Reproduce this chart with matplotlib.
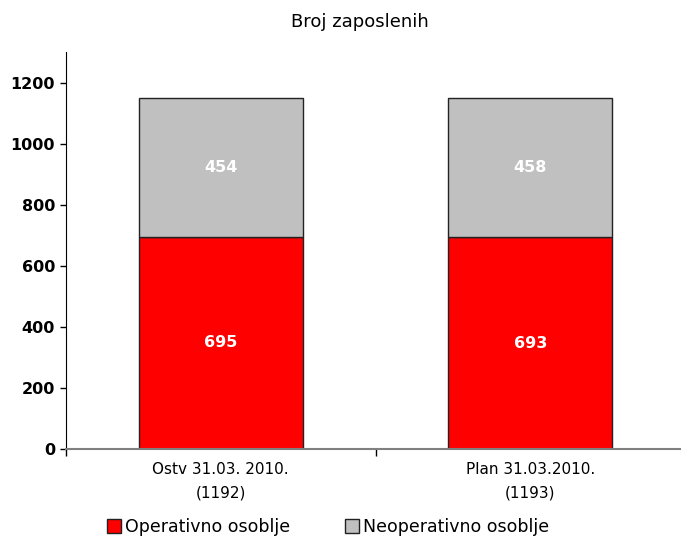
import matplotlib.pyplot as plt
from matplotlib.patches import Patch

categories = ['Ostv 31.03. 2010.\n(1192)', 'Plan 31.03.2010.\n(1193)']
operativno = [695, 693]
neoperativno = [454, 458]
y_ticks = [0, 200, 400, 600, 800, 1000, 1200]

red = '#ff0000'
grey = '#c0c0c0'

fig = plt.figure(figsize=(6.81, 5.38), dpi=100)
ax = fig.add_axes([66 / 681, 1 - 449 / 538, 619 / 681, 397 / 538])

x = list(range(len(categories)))
width = 0.53
ax.bar(x, operativno, width, color=red, edgecolor='#222222', linewidth=1.0)
ax.bar(x, neoperativno, width, bottom=operativno, color=grey,
       edgecolor='#222222', linewidth=1.0)

for xi, a, b in zip(x, operativno, neoperativno):
    ax.text(xi, a / 2, str(a), ha='center', va='center', color='white',
            fontsize=11.5, fontweight='bold')
    ax.text(xi, a + b / 2, str(b), ha='center', va='center', color='white',
            fontsize=11.5, fontweight='bold')

ax.set_xlim(-0.5, 1.5)
ax.set_ylim(0, 1300)
ax.set_yticks(y_ticks)
ax.set_yticklabels([str(t) for t in y_ticks], fontsize=11.5, fontweight='bold')
ax.tick_params(axis='y', direction='out', length=4, width=1, pad=4)

ax.set_xticks(x)
ax.set_xticklabels(categories, fontsize=11, linespacing=1.75)
ax.tick_params(axis='x', which='major', length=0, pad=9)
ax.set_xticks([-0.5, 0.5, 1.5], minor=True)
ax.tick_params(axis='x', which='minor', direction='out', length=5, width=1)

for side in ['top', 'right']:
    ax.spines[side].set_visible(False)
ax.spines['left'].set_color('black')
ax.spines['bottom'].set_color('#808080')
ax.spines['bottom'].set_linewidth(1.5)

fig.text(360 / 681, 1 - 22 / 538, 'Broj zaposlenih', ha='center', va='center',
         fontsize=13)

handles = [Patch(facecolor=red, edgecolor='#222222'),
           Patch(facecolor=grey, edgecolor='#222222')]
fig.legend(handles, ['Operativno osoblje', 'Neoperativno osoblje'],
           loc='center', bbox_to_anchor=(328 / 681, 1 - 527 / 538), ncol=2,
           frameon=False, fontsize=12.5, handlelength=0.8, handleheight=0.9,
           handletextpad=0.2, columnspacing=3.2)

fig.savefig('out.png', dpi=100)
